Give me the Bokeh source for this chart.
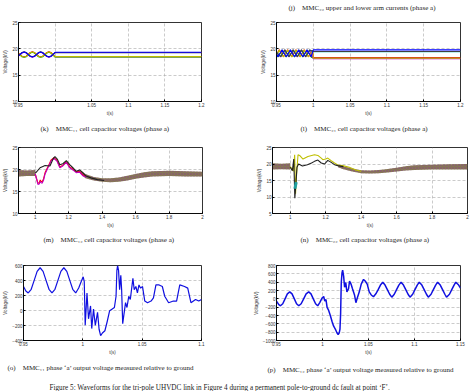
from bokeh.plotting import figure
from bokeh.layouts import column, row
from bokeh.models import Range1d, FixedTicker, Label
from bokeh.embed import file_html
from bokeh.resources import INLINE

# ---------------- data ----------------
# (k) MMC11 cell capacitor voltages, phase a  [t (s), kV]
k_t = [0.950, 0.952, 0.9548, 0.9577, 0.9605, 0.9633, 0.9661, 0.9690, 0.9718, 0.9746,
       0.9774, 0.9802, 0.9830, 0.9858, 0.9887, 0.9915, 0.9943, 0.9971, 1.000, 1.200]
k_red    = [19.15, 18.95, 18.60, 18.50, 18.60, 18.95, 19.30, 19.45, 19.30, 18.95,
            18.60, 18.50, 18.60, 18.95, 19.30, 19.45, 19.30, 18.95, 18.50, 18.50]
k_purple = [18.65, 18.85, 19.20, 19.35, 19.20, 18.85, 18.55, 18.40, 18.55, 18.85,
            19.20, 19.35, 19.20, 18.85, 18.55, 18.40, 18.55, 18.85, 19.30, 19.30]
k_green  = [19.05, 18.85, 18.50, 18.40, 18.50, 18.85, 19.20, 19.35, 19.20, 18.85,
            18.50, 18.40, 18.50, 18.85, 19.20, 19.35, 19.20, 18.85, 18.45, 18.45]
k_olive  = [19.10, 18.90, 18.55, 18.45, 18.55, 18.90, 19.25, 19.40, 19.25, 18.90,
            18.55, 18.45, 18.55, 18.90, 19.25, 19.40, 19.25, 18.90, 18.55, 18.55]
k_dark   = [18.75, 18.95, 19.30, 19.45, 19.30, 18.95, 18.65, 18.50, 18.65, 18.95,
            19.30, 19.45, 19.30, 18.95, 18.65, 18.50, 18.65, 18.95, 19.25, 19.25]
k_blue   = [18.70, 18.90, 19.25, 19.40, 19.25, 18.90, 18.60, 18.45, 18.60, 18.90,
            19.25, 19.40, 19.25, 18.90, 18.60, 18.45, 18.60, 18.90, 19.35, 19.35]

# (l) MMC21 cell capacitor voltages, phase a
l_ta = [0.950, 0.9520, 0.9576, 0.9632, 0.9689, 0.9745, 0.9802, 0.9858, 0.9915, 0.9971, 1.000, 1.200]
l_blue   = [19.00, 18.50, 19.80, 18.50, 19.80, 18.50, 19.80, 18.50, 19.80, 18.50, 19.80, 19.80]
l_green  = [18.95, 18.45, 19.75, 18.45, 19.75, 18.45, 19.75, 18.45, 19.75, 18.45, 18.25, 18.25]
l_tb = [0.950, 0.9557, 0.9613, 0.9670, 0.9726, 0.9783, 0.9839, 0.9896, 0.9952, 1.000, 1.200]
l_black  = [19.35, 18.50, 19.80, 18.50, 19.80, 18.50, 19.80, 18.50, 19.80, 19.50, 19.50]
l_cyan   = [19.30, 18.55, 19.75, 18.55, 19.75, 18.55, 19.75, 18.55, 19.75, 19.45, 19.45]
l_purple = [19.30, 18.45, 19.75, 18.45, 19.75, 18.45, 19.75, 18.45, 19.75, 18.15, 18.15]
l_tc = [0.950, 0.9538, 0.9595, 0.9651, 0.9708, 0.9764, 0.9821, 0.9877, 0.9934, 0.9990, 1.000, 1.200]
l_red    = [18.90, 19.80, 18.50, 19.80, 18.50, 19.80, 18.50, 19.80, 18.50, 19.70, 18.30, 18.30]
l_yellow = [18.85, 19.75, 18.45, 19.75, 18.45, 19.75, 18.45, 19.75, 18.45, 19.65, 18.20, 18.20]

# (m) MMC12 cell capacitor voltages, phase a
m_pre_t  = [0.90, 0.95, 1.00]
m_pre_hi = [19.9, 19.8, 19.9]
m_pre_lo = [18.4, 18.5, 18.5]
m_post_t  = [1.27, 1.30, 1.35, 1.40, 1.45, 1.50, 1.55, 1.60, 1.65, 1.70, 1.80, 1.90, 2.00]
m_post_hi = [19.9, 19.0, 18.3, 18.0, 18.0, 18.2, 18.6, 19.0, 19.4, 19.6, 19.7, 19.6, 19.5]
m_post_lo = [19.1, 18.0, 17.5, 17.2, 17.1, 17.2, 17.5, 17.9, 18.2, 18.4, 18.5, 18.4, 18.4]
m_up_t = [1.000, 1.004, 1.029, 1.059, 1.088, 1.108, 1.118, 1.133, 1.147, 1.165, 1.186,
          1.206, 1.225, 1.245, 1.265, 1.284, 1.304, 1.333, 1.372, 1.412]
m_up_v = [19.2, 19.3, 20.4, 20.9, 20.8, 22.5, 22.9, 22.3, 21.1, 21.3, 22.0,
          21.1, 20.4, 19.6, 19.9, 19.3, 18.5, 18.1, 17.7, 17.5]
m_lo_t = [1.000, 1.008, 1.016, 1.024, 1.030, 1.035, 1.042, 1.050, 1.059, 1.076, 1.094,
          1.112, 1.130, 1.147, 1.165, 1.186, 1.206, 1.225, 1.245, 1.265, 1.284, 1.304]
m_lo_v = [19.0, 17.8, 16.6, 16.7, 17.3, 17.0, 16.9, 17.6, 19.0, 20.4, 21.9,
          22.5, 21.9, 20.4, 20.8, 21.6, 20.4, 19.9, 19.3, 19.4, 18.6, 18.3]
m_lo2_v = [19.0, 18.0, 16.9, 17.0, 17.6, 17.3, 17.2, 17.9, 19.3, 20.6, 22.1,
           22.7, 22.1, 20.6, 21.0, 21.8, 20.6, 20.1, 19.5, 19.6, 18.8, 18.5]

# (n) MMC22 cell capacitor voltages, phase a
n_pre_t  = [0.90, 0.95, 1.00]
n_pre_hi = [20.2, 20.1, 20.2]
n_pre_lo = [18.3, 18.4, 18.3]
n_post_t  = [1.27, 1.30, 1.35, 1.40, 1.45, 1.50, 1.55, 1.60, 1.65, 1.70, 1.80, 1.90, 2.00]
n_post_hi = [19.8, 19.3, 18.6, 18.1, 18.0, 18.2, 18.5, 18.9, 19.3, 19.6, 19.8, 19.9, 20.0]
n_post_lo = [19.0, 18.4, 17.7, 17.2, 17.1, 17.2, 17.4, 17.7, 18.0, 18.2, 18.3, 18.3, 18.3]
n_up_t = [1.000, 1.010, 1.018, 1.025, 1.030, 1.036, 1.044, 1.053, 1.072, 1.100, 1.137, 1.156,
          1.175, 1.184, 1.200, 1.212, 1.231, 1.250, 1.268, 1.296, 1.333, 1.370, 1.400]
n_up_v = [19.2, 18.5, 17.8, 22.8, 11.0, 17.0, 22.8, 22.6, 21.5, 22.3, 22.8, 22.6,
          21.8, 21.3, 21.5, 21.8, 21.0, 20.3, 19.7, 19.5, 19.0, 18.2, 17.8]
n_lo_t = [1.000, 1.012, 1.020, 1.026, 1.032, 1.038, 1.047, 1.069, 1.097, 1.120, 1.137, 1.156,
          1.175, 1.194, 1.212, 1.231, 1.250, 1.268, 1.300]
n_lo_v = [19.0, 18.0, 21.5, 9.6, 14.0, 19.0, 20.0, 19.4, 19.8, 20.3, 20.8, 21.2,
          20.3, 20.0, 21.1, 20.5, 19.8, 19.5, 19.2]
n_cyan_t = [1.026, 1.030, 1.034]
n_cyan_v = [12.5, 13.5, 14.5]

# (o) MMC11 phase 'a' output voltage to ground
o_t = [0.950, 0.952, 0.954, 0.9565, 0.959, 0.9615, 0.964, 0.9665, 0.969, 0.9715, 0.974,
       0.9765, 0.979, 0.9815, 0.984, 0.9865, 0.989, 0.9915, 0.994, 0.9965, 0.999, 1.0003,
       1.0012, 1.002, 1.0035, 1.0048, 1.0065, 1.0075, 1.009, 1.0105, 1.0124, 1.0137, 1.0150,
       1.0165, 1.0186, 1.0205, 1.0226, 1.0245, 1.0266, 1.028, 1.0287, 1.0293, 1.0301, 1.031,
       1.032, 1.0327, 1.0336, 1.0345, 1.036, 1.0372, 1.0387, 1.0400, 1.0422, 1.0433, 1.0447,
       1.046, 1.0473, 1.0487, 1.0503, 1.0522, 1.0545, 1.0575, 1.0595, 1.0616, 1.0643, 1.067,
       1.069, 1.0723, 1.0763, 1.079, 1.0817, 1.0857, 1.0884, 1.0911, 1.095, 1.0977, 1.100]
o_v = [320, 260, 234, 283, 402, 521, 570, 521, 402, 283, 234,
       283, 402, 521, 570, 521, 402, 283, 234, 300, 400, 449,
       384, -197, 234, -111, 61, -241, 18, -197, -25, -250, -335,
       -300, -270, -150, -3, 18, 40, 190, 535, 600, 535, 277,
       470, 277, -176, -68, 104, 40, 190, 147, 428, 277, 320,
       234, 341, 298, 320, 126, 104, 126, 169, 341, 341, 320,
       190, 104, 126, 126, 341, 320, 298, 104, 147, 126, 147]

# (p) MMC12 phase 'a' output voltage to ground
p_t = [0.950, 0.9525, 0.9543, 0.9568, 0.9593, 0.9618, 0.9644, 0.9669, 0.9694, 0.9718, 0.9742,
       0.9768, 0.9795, 0.9822, 0.9850, 0.9875, 0.9900, 0.9925, 0.9948, 0.9970, 0.9995, 1.0013,
       1.0025, 1.0038, 1.0050, 1.0067, 1.0085, 1.0103, 1.0120, 1.0139, 1.0157, 1.0170, 1.0182,
       1.0190, 1.0197, 1.0204, 1.0212, 1.0219, 1.0230, 1.0240, 1.0253, 1.0265, 1.0283, 1.0294,
       1.0310, 1.0326, 1.0348, 1.0363, 1.0378, 1.0400, 1.0421, 1.0446, 1.0464, 1.0486, 1.0508,
       1.0530, 1.0554, 1.0580, 1.0605, 1.0630, 1.0655, 1.0680, 1.0705, 1.0730, 1.0753, 1.0780,
       1.0805, 1.0830, 1.0854, 1.0880, 1.0905, 1.0930, 1.0951, 1.0980, 1.1005, 1.1030, 1.1052,
       1.1080, 1.1105, 1.1130, 1.1150, 1.1180, 1.1205, 1.1230, 1.1251, 1.1280, 1.1305, 1.1330,
       1.1348, 1.1380, 1.1405, 1.1430, 1.1449, 1.1480, 1.1500]
p_v = [-55, -140, -167, -118, 0, 118, 168, 118, 0, -118, -167,
       -118, 0, 118, 168, 118, 0, -118, -167, -90, 19, 56,
       -55, -18, -204, -279, -400, -539, -651, -725, -814, -859, -814,
       -725, -353, 391, 620, 690, 540, 279, 391, 168, 242, 428,
       354, 242, 93, -92, 19, 168, 354, 465, 428, 354, 168,
       93, 50, 120, 220, 330, 400, 330, 220, 110, 40, 110,
       220, 330, 400, 330, 220, 110, 40, 110, 220, 330, 400,
       330, 220, 110, 40, 110, 220, 330, 400, 330, 220, 110,
       40, 110, 220, 330, 400, 330, 260]

# axis ticks and their printed labels
t_ticks_short = [0.95, 1.0, 1.05, 1.1, 1.15, 1.2]
t_labels_k = ["0.95", "", "1.05", "1.1", "1.15", "1.2"]
t_labels_l = ["0.95", "1", "1.05", "1.1", "1.15", "1.2"]
t_ticks_long = [1.0, 1.2, 1.4, 1.6, 1.8, 2.0]
t_labels_long = ["1", "1.2", "1.4", "1.6", "1.8", "2"]
t_ticks_o = [0.95, 1.0, 1.05, 1.1]
t_labels_o = ["0.95", "1", "1.05", "1.1"]
t_ticks_p = [0.95, 1.0, 1.05, 1.1, 1.15]
t_labels_p = ["0.95", "1", "1.05", "1.1", "1.15"]
v_ticks_cap = [10, 15, 20, 25]
v_ticks_n = [5, 10, 15, 20, 25]
v_ticks_o = [-400, -200, 0, 200, 400, 600]
v_ticks_p = [-1000, -800, -600, -400, -200, 0, 200, 400, 600, 800]

captions = {
    "j": "(j)\u00a0\u00a0\u00a0\u00a0MMC\u2082\u2082 upper and lower arm currents (phase a)",
    "k": "(k)\u00a0\u00a0\u00a0\u00a0MMC\u2081\u2081 cell capacitor voltages (phase a)",
    "l": "(l)\u00a0\u00a0\u00a0\u00a0MMC\u2082\u2081 cell capacitor voltages (phase a)",
    "m": "(m)\u00a0\u00a0\u00a0\u00a0MMC\u2081\u2082 cell capacitor voltages (phase a)",
    "n": "(n)\u00a0\u00a0\u00a0\u00a0MMC\u2082\u2082 cell capacitor voltages (phase a)",
    "o": "(o)\u00a0\u00a0\u00a0\u00a0MMC\u2081\u2081 phase \u2018a\u2019 output voltage measured relative to ground",
    "p": "(p)\u00a0\u00a0\u00a0\u00a0MMC\u2081\u2082 phase \u2018a\u2019 output voltage measured relative to ground",
}
fig_caption = ("Figure 5: Waveforms for the tri-pole UHVDC link in Figure 4 during a "
               "permanent pole-to-ground dc fault at point \u2018F\u2019.")

C_BLUE, C_GREEN, C_RED = "#0000ff", "#008000", "#ff0000"
C_CYAN, C_MAG, C_OLIVE, C_DARK = "#00bfbf", "#bf00bf", "#bfbf00", "#404040"
SERIF = "Liberation Serif"
SANS = "Liberation Sans"


def panel(w, h, xr, yr, lrtb, xt, xl, yt):
    p = figure(width=w, height=h, x_range=Range1d(*xr), y_range=Range1d(*yr),
               output_backend="svg", toolbar_location=None,
               min_border_left=lrtb[0], min_border_right=lrtb[1],
               min_border_top=lrtb[2], min_border_bottom=lrtb[3])
    p.outline_line_color = "black"
    p.outline_line_width = 0.8
    xtk = FixedTicker(ticks=xt)
    ytk = FixedTicker(ticks=yt)
    p.xaxis.ticker = xtk
    p.yaxis.ticker = ytk
    p.xgrid.ticker = xtk
    p.ygrid.ticker = ytk
    p.xaxis.major_label_overrides = {t: s for t, s in zip(xt, xl)}
    p.xaxis.axis_label = "t(s)"
    p.yaxis.axis_label = "Voltage(kV)"
    for ax in (p.xaxis[0], p.yaxis[0]):
        ax.major_label_text_font = SANS
        ax.major_label_text_font_size = "4.5px"
        ax.major_label_text_color = "#333333"
        ax.axis_label_text_font = SANS
        ax.axis_label_text_font_size = "4.5px"
        ax.axis_label_text_font_style = "normal"
        ax.axis_label_text_color = "#333333"
        ax.major_tick_in = 2
        ax.major_tick_out = 0
        ax.minor_tick_line_color = None
        ax.axis_line_color = "black"
        ax.axis_line_width = 0.8
        ax.major_label_standoff = 1
        ax.axis_label_standoff = 1
    p.grid.grid_line_color = "#a8a8a8"
    p.grid.grid_line_dash = "3 2"
    p.grid.grid_line_width = 0.6
    return p


def strip(w, h, x, y, text, size="7px"):
    # a text-only band that holds a caption line
    s = figure(width=w, height=h, output_backend="svg", toolbar_location=None,
               x_axis_type=None, y_axis_type=None, min_border=0,
               x_range=Range1d(0, 1), y_range=Range1d(0, 1))
    s.outline_line_color = None
    s.add_layout(Label(x=x, y=y, x_units="screen", y_units="screen", text=text,
                       text_font=SERIF, text_font_size=size, text_color="#222222",
                       text_baseline="middle", text_align="left"))
    return s


def band(p, t, lo, hi):
    p.varea(x=t, y1=lo, y2=hi, fill_color="#7f7448", fill_alpha=0.95,
            hatch_pattern="diagonal_cross", hatch_color="#8a3f8f",
            hatch_scale=3, hatch_weight=0.6, hatch_alpha=0.7)


# ---- top strip with the (j) caption ----
top = strip(476, 14, 288, 7, captions["j"])

# ---- (k) ----
pk = panel(238, 104, (0.95, 1.2), (10, 25), (16, 37, 8, 16),
           t_ticks_short, t_labels_k, v_ticks_cap)
for v, c in ((k_red, C_RED), (k_purple, C_MAG), (k_green, C_GREEN),
             (k_olive, C_OLIVE), (k_dark, C_DARK), (k_blue, C_BLUE)):
    pk.line(k_t, v, line_color=c, line_width=1.1)

# ---- (l) ----
pl = panel(238, 104, (0.95, 1.2), (10, 25), (38, 16, 8, 16),
           t_ticks_short, t_labels_l, v_ticks_cap)
pl.line(l_ta, l_green, line_color=C_GREEN, line_width=1.1)
pl.line(l_tc, l_red, line_color=C_RED, line_width=1.1)
pl.line(l_tb, l_purple, line_color=C_MAG, line_width=1.1)
pl.line(l_tc, l_yellow, line_color=C_OLIVE, line_width=1.1)
pl.line(l_tb, l_cyan, line_color=C_CYAN, line_width=1.1)
pl.line(l_tb, l_black, line_color=C_DARK, line_width=1.1)
pl.line(l_ta, l_blue, line_color=C_BLUE, line_width=1.1)

cap_k = strip(238, 18, 40, 8, captions["k"])
cap_l = strip(238, 18, 62, 8, captions["l"])

# ---- (m) ----
pm = panel(238, 94, (0.9, 2.0), (10, 25), (13, 36, 11, 14),
           t_ticks_long, t_labels_long, v_ticks_cap)
band(pm, m_pre_t, m_pre_lo, m_pre_hi)
band(pm, m_post_t, m_post_lo, m_post_hi)
pm.line(m_lo_t, m_lo2_v, line_color=C_RED, line_width=1.1)
pm.line(m_lo_t, m_lo_v, line_color=C_MAG, line_width=1.1)
pm.line(m_up_t, m_up_v, line_color="#202020", line_width=1.1)

# ---- (n) ----
pn = panel(238, 94, (0.9, 2.0), (5, 25), (34, 9, 11, 11),
           t_ticks_long, t_labels_long, v_ticks_n)
band(pn, n_pre_t, n_pre_lo, n_pre_hi)
band(pn, n_post_t, n_post_lo, n_post_hi)
pn.line(n_up_t, n_up_v, line_color=C_OLIVE, line_width=1.1)
pn.line(n_lo_t, n_lo_v, line_color="#202020", line_width=1.1)
pn.line(n_cyan_t, n_cyan_v, line_color="#20a0a0", line_width=3)

cap_m = strip(238, 20, 43, 11, captions["m"])
cap_n = strip(238, 20, 62, 11, captions["n"])

# ---- (o) ----
po = panel(238, 107, (0.95, 1.1), (-400, 600), (15, 37, 15, 15),
           t_ticks_o, t_labels_o, v_ticks_o)
po.line(o_t, o_v, line_color="#1010e0", line_width=1.2)

# ---- (p) ----
pp = panel(238, 107, (0.95, 1.15), (-1000, 800), (38, 16, 15, 11),
           t_ticks_p, t_labels_p, v_ticks_p)
pp.line(p_t, p_v, line_color="#1010e0", line_width=1.5)

cap_o = strip(238, 20, 7, 10, captions["o"])
cap_p = strip(238, 20, 29, 8, captions["p"])

bottom = strip(476, 14, 49, 4, fig_caption, size="7.2px")

layout = column(top, row(pk, pl), row(cap_k, cap_l), row(pm, pn), row(cap_m, cap_n),
                row(po, pp), row(cap_o, cap_p), bottom)
open("out.html", "w").write(file_html(layout, INLINE))
